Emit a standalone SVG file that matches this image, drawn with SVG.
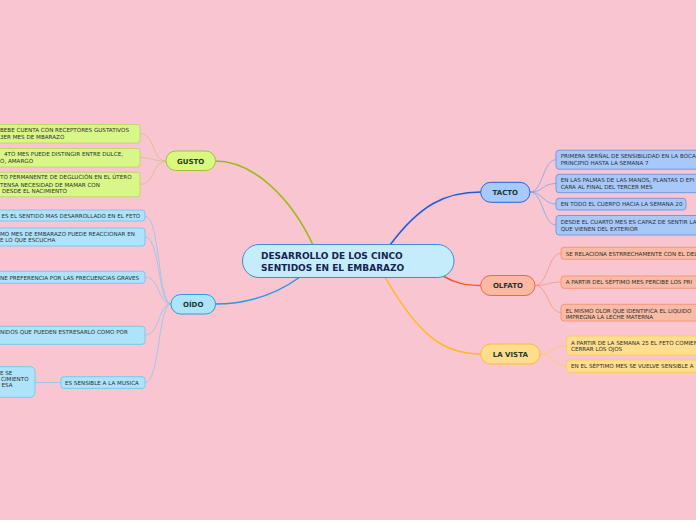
<svg xmlns="http://www.w3.org/2000/svg" width="696" height="520" viewBox="0 0 696 520">
<style>
.t{font-family:"DejaVu Sans",Verdana,sans-serif;font-size:5.6px;fill:#2e2e2e}
.n{font-family:"DejaVu Sans",Verdana,sans-serif;font-size:7px;font-weight:bold;fill:#1b3a30;text-anchor:middle}
.c{font-family:"DejaVu Sans",Verdana,sans-serif;font-size:9px;font-weight:bold;fill:#14244f}
.lk{fill:none;stroke-width:1.5}
.sl{fill:none;stroke-width:0.8}
.g{fill:#d9f788;stroke:#bcd96c;stroke-width:1}
.o{fill:#aee4fb;stroke:#7cc6ef;stroke-width:1}
.ta{fill:#a8c8fa;stroke:#6e9be8;stroke-width:1}
.ol{fill:#f9bba5;stroke:#f4977a;stroke-width:1}
.v{fill:#ffde8e;stroke:#f9cd68;stroke-width:1}
</style>
<rect width="696" height="520" fill="#f9c5d0"/>
<g id="connectors">
<path class="lk" stroke="#9cb81c" d="M313,245 C292,200 255,161 215,161"/>
<path class="lk" stroke="#1e9ce3" d="M300,277 C275,295 245,304 215,304"/>
<path class="lk" stroke="#1c5fdb" d="M390,245 C420,205 445,192 481,192"/>
<path class="lk" stroke="#f25a2b" d="M443,276 C455,283 465,285.5 481,285.5"/>
<path class="lk" stroke="#ffb91f" d="M385,277 C420,338 445,354 481,354"/>
<path class="sl" stroke="#cdc184" d="M166,161 C152,161 155,133.5 140,133.5 M166,161 C152,161 152,157.5 140,157.5 M166,161 C152,161 155,184.5 140,184.5"/>
<path class="sl" stroke="#8cc6ec" d="M171,304 C158,304 160,216 145,216 M171,304 C158,304 160,237 145,237 M171,304 C158,304 160,277 145,277 M171,304 C158,304 160,335 145,335 M171,304 C158,304 160,382.5 145,382.5 M61,382.5 L35,382.5"/>
<path class="sl" stroke="#7da2ea" d="M530,192 C543,192 543,159.7 556,159.7 M530,192 C543,192 543,183.5 556,183.5 M530,192 C543,192 543,204 556,204 M530,192 C543,192 543,225 556,225"/>
<path class="sl" stroke="#f5967e" d="M535,285.5 C548,285.5 548,253.3 561,253.3 M535,285.5 C548,285.5 548,282 561,282 M535,285.5 C548,285.5 548,312.5 561,312.5"/>
<path class="sl" stroke="#ffc86a" d="M540,354 C553,354 553,345.5 567,345.5 M540,354 C553,354 553,366 567,366"/>
</g>
<g id="center">
<rect x="242.5" y="244.5" width="211.5" height="33" rx="16.5" fill="#c5ecfb" stroke="#3a8fd0" stroke-width="1"/>
<text class="c" x="261" y="258.5">DESARROLLO DE LOS CINCO</text>
<text class="c" x="261" y="270.5">SENTIDOS EN EL EMBARAZO</text>
</g>
<g id="gusto">
<rect x="166" y="151" width="49.5" height="19.5" rx="9.7" fill="#daf880" stroke="#9cc630" stroke-width="1"/>
<text class="n" x="190.7" y="163.5">GUSTO</text>
</g>
<g id="gusto-1">
<rect class="g" x="-60" y="124.5" width="200" height="18.5" rx="3"/>
<text class="t" x="0" y="132.1">BEBE CUENTA CON RECEPTORES GUSTATIVOS</text>
<text class="t" x="0" y="138.7">3ER MES DE MBARAZO</text>
</g>
<g id="gusto-2">
<rect class="g" x="-60" y="148.5" width="200" height="18.5" rx="3"/>
<text class="t" x="4" y="156.1">4TO MES PUEDE DISTINGIR ENTRE DULCE,</text>
<text class="t" x="0" y="162.9">O, AMARGO</text>
</g>
<g id="gusto-3">
<rect class="g" x="-60" y="172.3" width="200" height="24.5" rx="3"/>
<text class="t" x="0" y="179.4">TO PERMANENTE DE DEGLUCIÓN EN EL ÚTERO</text>
<text class="t" x="0" y="186.6">TENSA NECESIDAD DE MAMAR CON</text>
<text class="t" x="2" y="193.1">DESDE EL NACIMIENTO</text>
</g>
<g id="oido">
<rect x="171" y="294.5" width="44.5" height="19.5" rx="9.7" fill="#ade4fb" stroke="#2a9fe0" stroke-width="1"/>
<text class="n" x="193.2" y="306.8">OÍDO</text>
</g>
<g id="oido-1">
<rect class="o" x="-60" y="210" width="205" height="11" rx="3"/>
<text class="t" x="1.5" y="217.6">ES EL SENTIDO MAS DESARROLLADO EN EL FETO</text>
</g>
<g id="oido-2">
<rect class="o" x="-60" y="228" width="205" height="18" rx="3"/>
<text class="t" x="0" y="235.7">MO MES DE EMBARAZO PUEDE REACCIONAR EN</text>
<text class="t" x="0" y="242.1">E LO QUE ESCUCHA</text>
</g>
<g id="oido-3">
<rect class="o" x="-60" y="271.3" width="205" height="12" rx="3"/>
<text class="t" x="0" y="279.5">NE PREFERENCIA POR LAS FRECUENCIAS GRAVES</text>
</g>
<g id="oido-4">
<rect class="o" x="-60" y="326.3" width="205" height="18" rx="3"/>
<text class="t" x="0" y="333.7">NIDOS QUE PUEDEN ESTRESARLO COMO POR</text>
</g>
<g id="oido-5">
<rect class="o" x="61" y="376.7" width="84" height="11.7" rx="3"/>
<text class="t" x="65" y="384.6">ES SENSIBLE A LA MUSICA</text>
</g>
<g id="oido-5-1">
<rect class="o" x="-60" y="366.7" width="95" height="30.6" rx="5"/>
<text class="t" x="0" y="374.7">E SE</text>
<text class="t" x="1" y="381">CIMIENTO</text>
<text class="t" x="1.5" y="387.3">ESA</text>
</g>
<g id="tacto">
<rect x="480.7" y="182.3" width="49.3" height="20" rx="10" fill="#a7c9fb" stroke="#2466d8" stroke-width="1"/>
<text class="n" x="505.3" y="194.8">TACTO</text>
</g>
<g id="tacto-1">
<rect class="ta" x="556" y="150.2" width="200" height="19" rx="3"/>
<text class="t" x="560.7" y="158.1">PRIMERA SERÑAL DE SENSIBILIDAD EN LA BOCA</text>
<text class="t" x="560.7" y="164.7">PRINCIPIO HASTA LA SEMANA 7</text>
</g>
<g id="tacto-2">
<rect class="ta" x="556" y="174.3" width="200" height="18.4" rx="3"/>
<text class="t" x="560.7" y="182.3">EN LAS PALMAS DE LAS MANOS, PLANTAS D EPI</text>
<text class="t" x="560.7" y="189">CARA AL FINAL DEL TERCER MES</text>
</g>
<g id="tacto-3">
<rect class="ta" x="556" y="198.3" width="130" height="11.7" rx="3"/>
<text class="t" x="560.7" y="206.2">EN TODO EL CUERPO HACIA LA SEMANA 20</text>
</g>
<g id="tacto-4">
<rect class="ta" x="556" y="215.5" width="200" height="19.5" rx="3"/>
<text class="t" x="560.7" y="223.5">DESDE EL CUARTO MES ES CAPAZ DE SENTIR LA</text>
<text class="t" x="560.7" y="230.6">QUE VIENEN DEL EXTERIOR</text>
</g>
<g id="olfato">
<rect x="480.7" y="275.5" width="54.3" height="20" rx="10" fill="#f9b9a3" stroke="#f26643" stroke-width="1"/>
<text class="n" x="507.9" y="288">OLFATO</text>
</g>
<g id="olfato-1">
<rect class="ol" x="561" y="247.3" width="200" height="12" rx="3"/>
<text class="t" x="565.7" y="255.5">SE RELACIONA ESTRRECHAMENTE CON EL DEL</text>
</g>
<g id="olfato-2">
<rect class="ol" x="561" y="276" width="200" height="12.3" rx="3"/>
<text class="t" x="565.7" y="284.2">A PARTIR DEL SÉPTIMO MES PERCIBE LOS PRI</text>
</g>
<g id="olfato-3">
<rect class="ol" x="561" y="304.3" width="200" height="16.7" rx="3"/>
<text class="t" x="565.7" y="312.7">EL MISMO OLOR QUE IDENTIFICA EL LIQUIDO</text>
<text class="t" x="565.7" y="319.3">IMPREGNA LA LECHE MATERNA</text>
</g>
<g id="la-vista">
<rect x="480.7" y="344" width="59.3" height="20" rx="10" fill="#ffdd8c" stroke="#f7be34" stroke-width="1"/>
<text class="n" x="510.3" y="356.5">LA VISTA</text>
</g>
<g id="vista-1">
<rect class="v" x="566.7" y="336" width="200" height="19" rx="3"/>
<text class="t" x="571" y="344.9">A PARTIR DE LA SEMANA 25 EL FETO COMIEN</text>
<text class="t" x="571" y="351.3">CERRAR LOS OJOS</text>
</g>
<g id="vista-2">
<rect class="v" x="566.7" y="360" width="200" height="12.3" rx="3"/>
<text class="t" x="571" y="368.3">EN EL SÉPTIMO MES SE VUELVE SENSIBLE A</text>
</g>
</svg>
